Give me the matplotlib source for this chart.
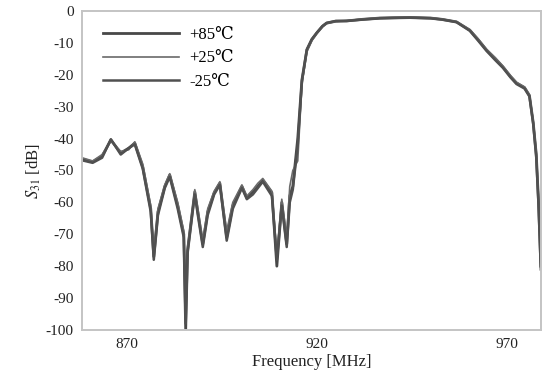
import matplotlib
matplotlib.use("Agg")
import matplotlib.pyplot as plt

plt.rcParams['font.family'] = ['Liberation Serif', 'DejaVu Serif']
plt.rcParams['mathtext.fontset'] = 'stix'
plt.rcParams['axes.unicode_minus'] = False

freq = [858.2, 861.0, 863.5, 865.8, 868.4, 870.5, 872.1, 874.2, 876.3, 877.1,
        878.2, 880.0, 881.3, 883.4, 885.0, 885.5, 886.0, 887.9, 888.7, 890.0,
        891.3, 893.0, 894.5, 896.3, 897.9, 900.3, 901.6, 903.2, 904.5, 905.8,
        908.2, 909.5, 910.8, 912.1, 912.9, 913.7, 915.0, 916.1, 917.4, 918.7,
        920.0, 921.5, 922.6, 925.0, 927.9, 932.0, 936.6, 940.0, 944.5, 950.0,
        953.0, 956.8, 960.3, 962.5, 964.7, 967.0, 969.0, 971.0, 972.6, 974.7,
        976.0, 977.0, 977.8, 978.4, 979.0]

s_p85 = [-46.4, -47.3, -45.5, -40.4, -44.5, -43.0, -41.4, -48.9, -62.0, -77.0,
         -63.0, -55.0, -51.4, -61.0, -70.0, -100.0, -75.0, -56.7, -63.0, -73.0,
         -63.0, -57.0, -54.0, -71.0, -61.0, -55.0, -58.6, -56.7, -55.0, -53.0,
         -57.0, -80.0, -60.0, -73.0, -58.0, -55.0, -40.0, -21.6, -12.2, -9.0,
         -6.9, -4.8, -3.8, -3.2, -3.1, -2.6, -2.2, -2.1, -2.0, -2.2,
         -2.6, -3.4, -6.0, -9.0, -12.2, -15.0, -17.5, -20.5, -22.6, -24.0,
         -26.5, -35.0, -45.0, -60.0, -80.0]

s_p25 = [-46.0, -47.0, -45.0, -40.8, -44.0, -43.5, -41.0, -48.0, -61.0, -75.0,
         -62.0, -54.5, -51.0, -60.0, -69.0, -96.0, -74.0, -56.0, -62.0, -72.0,
         -62.0, -56.5, -53.5, -69.0, -60.0, -54.5, -58.0, -56.0, -54.0, -52.5,
         -56.5, -76.0, -59.0, -71.0, -55.0, -50.0, -47.0, -23.0, -12.8, -9.3,
         -7.1, -5.0, -3.9, -3.3, -3.0, -2.5, -2.1, -2.0, -1.9, -2.1,
         -2.5, -3.3, -5.8, -8.7, -12.0, -14.6, -17.2, -20.2, -22.3, -23.8,
         -26.2, -34.5, -44.0, -59.0, -79.0]

s_m25 = [-46.8, -47.6, -46.0, -40.2, -45.0, -43.0, -41.8, -49.5, -63.0, -78.0,
         -64.0, -55.5, -52.0, -62.0, -71.0, -98.0, -76.0, -57.5, -64.0, -74.0,
         -64.0, -57.5, -54.5, -72.0, -62.0, -55.5, -59.0, -57.5, -55.5, -53.5,
         -58.0, -78.0, -61.0, -74.0, -60.0, -56.0, -42.0, -22.0, -12.0, -8.8,
         -6.8, -4.7, -3.7, -3.1, -3.1, -2.7, -2.3, -2.2, -2.1, -2.3,
         -2.7, -3.5, -6.2, -9.3, -12.5, -15.4, -17.8, -20.8, -22.9, -24.3,
         -26.8, -35.5, -46.0, -61.0, -81.0]

labels = ['+85\u2103', '+25\u2103', '-25\u2103']
xticks = [870, 920, 970]
yticks = [0, -10, -20, -30, -40, -50, -60, -70, -80, -90, -100]

fig = plt.figure(figsize=(5.43, 3.81), dpi=100)
ax = fig.add_axes([0.151, 0.134, 0.845, 0.837])

ax.plot(freq, s_p85, color='#484848', lw=2.0, label=labels[0])
ax.plot(freq, s_p25, color='#6a6a6a', lw=1.2, label=labels[1])
ax.plot(freq, s_m25, color='#505050', lw=1.8, label=labels[2])

ax.set_xlim(858.2, 979.0)
ax.set_ylim(-100, 0)
ax.set_xticks(xticks)
ax.set_yticks(yticks)
ax.set_yticklabels([str(v) for v in yticks])
ax.tick_params(axis='both', length=0, labelsize=11, pad=6, colors='#222222')

for sp in ax.spines.values():
    sp.set_color('#c4c4c4')
    sp.set_linewidth(1.4)

ax.set_xlabel('Frequency [MHz]', fontsize=12, labelpad=2, color='#222222')
ax.set_ylabel('$S_{31}$ [dB]', fontsize=12, labelpad=2, color='#222222')

ax.legend(loc='upper left', bbox_to_anchor=(0.045, 0.95), frameon=False,
          handlelength=4.6, handletextpad=0.6, labelspacing=0.45,
          borderpad=0, borderaxespad=0, fontsize=12)

fig.savefig('out.png', dpi=100)
